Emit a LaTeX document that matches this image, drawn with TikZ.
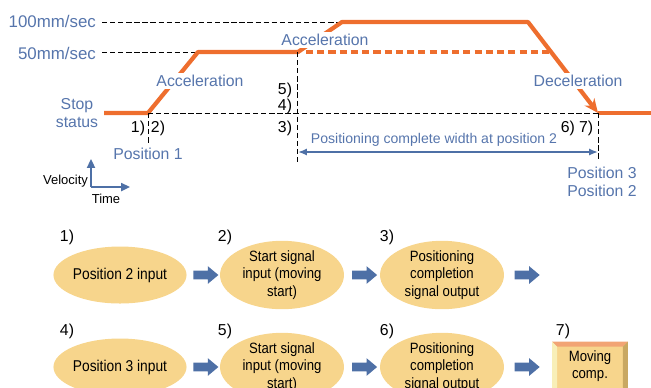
\documentclass[tikz,border=0pt]{standalone}
\usepackage{fontspec}
\setmainfont{Liberation Sans}
\newfontfamily\narrowfont{Liberation Sans}[FakeStretch=0.88]
\usepackage{xcolor}
\usetikzlibrary{arrows.meta, positioning, shapes.geometric, shapes.arrows, calc}

\definecolor{speedorange}{HTML}{EE6E2E}
\definecolor{textblue}{HTML}{5675AC}
\definecolor{flowblue}{HTML}{4E70A6}
\definecolor{stepfill}{HTML}{F7D58C}
\definecolor{bevtop}{HTML}{F2A474}
\definecolor{bevleft}{HTML}{F8EFB8}
\definecolor{bevright}{HTML}{C9A862}

\begin{document}
\begin{tikzpicture}[
  x=0.02cm, y=-0.02cm,
  profile/.style={draw=speedorange, line width=2.4pt, line join=round},
  profdash/.style={draw=speedorange, line width=2.4pt, dash pattern=on 4pt off 2.4pt},
  guide/.style={draw=black, line width=0.5pt, dash pattern=on 3pt off 1.6pt},
  bluetxt/.style={text=textblue, font=\fontsize{9}{10.3}\selectfont, align=center, inner sep=1pt},
  phase/.style={bluetxt, fill=white},
  numtxt/.style={font=\fontsize{9}{10}\selectfont, inner sep=1pt},
  stepoval/.style={ellipse, fill=stepfill, minimum width=2.48cm, minimum height=1.14cm, inner sep=0pt,
    align=center, font=\narrowfont\fontsize{8.5}{9.8}\selectfont},
  blockarrow/.style={single arrow, fill=flowblue, inner sep=0.08cm, minimum height=0.5cm,
    single arrow head extend=0.09cm, single arrow tip angle=80}
]
  \useasboundingbox (0,0) rectangle (651,387);
  \clip (0,0) rectangle (651,387);

  % Speed levels
  \node[bluetxt, font=\fontsize{9.6}{10}\selectfont, anchor=east] (v100) at (98,21) {100mm/sec};
  \node[bluetxt, font=\fontsize{9.6}{10}\selectfont, anchor=east] (v50)  at (98,53) {50mm/sec};
  \coordinate (h100) at (340,22);
  \coordinate (h50)  at (297,52);
  \draw[guide] (v100.east) ++(4,1) coordinate (g100) -- (h100);
  \draw[guide] (v50.east) ++(4,-1) coordinate (g50) -- (h50);

  % Velocity profile
  \coordinate (s0) at (104,113);
  \coordinate (a0) at (148,113);
  \coordinate (a1) at (198,52);
  \coordinate (b0) at (298,52);
  \coordinate (b1) at (342,22);
  \coordinate (c0) at (528,22);
  \coordinate (c1) at (598,113);
  \coordinate (e0) at (651,113);
  \coordinate (d0) at (306,52);
  \coordinate (d1) at (551,52);
  \draw[profdash] (d0) -- (d1);
  \draw[profile, -{Stealth[length=8pt, width=7pt]}] (s0) -- (a0) -- (a1) -- (b0) -- (b1) -- (c0) -- (c1);
  \draw[profile] (c1) -- (e0);

  % Guide lines
  \coordinate (a0low) at (148,143);
  \coordinate (h50low) at (297,163);
  \coordinate (c1low) at (598,160);
  \draw[guide] (a0) -- (c1);
  \draw[guide] (a0) -- (a0low);
  \draw[guide] (h50) -- (h50low);
  \draw[guide] (c1) -- (c1low);

  % Phase labels
  \node[phase] (acc1) at (200,81) {Acceleration};
  \node[phase] (acc2) at (325,40) {Acceleration};
  \node[phase] (dec)  at (578,81) {Deceleration};
  \node[bluetxt] (stop) at (77,113) {Stop\\status};
  \node[bluetxt] (pos1) at (148,154) {Position 1};
  \node[bluetxt] (pos32) at (602,182) {Position 3\\Position 2};

  % Step numbers on the chart
  \node[numtxt] (t1) at (138,128) {1)};
  \node[numtxt] (t2) at (158,128) {2)};
  \node[numtxt] (t3) at (285,128) {3)};
  \node[numtxt] (t4) at (285,106) {4)};
  \node[numtxt] (t5) at (285,90)  {5)};
  \node[numtxt] (t67) at (577,128) {6) 7)};

  % Positioning width
  \coordinate (w0) at (298,152);
  \coordinate (w1) at (598,152);
  \draw[flowblue, line width=1pt, {Latex[length=5pt, width=4pt]}-{Latex[length=5pt, width=4pt]}] (w0) -- (w1);
  \node[bluetxt, font=\fontsize{8}{9}\selectfont] (wtxt) at (434,140) {Positioning complete width at position 2};

  % Axes
  \coordinate (ax0) at (91,187);
  \coordinate (axv) at (91,159);
  \coordinate (axt) at (130,187);
  \draw[flowblue, line width=1.1pt, -{Triangle[length=5pt, width=4.5pt]}] (ax0) -- (axv);
  \draw[flowblue, line width=1.1pt, -{Triangle[length=5pt, width=4.5pt]}] (ax0) -- (axt);
  \node[anchor=east, font=\fontsize{7.4}{8}\selectfont, inner sep=1pt] (vel) at (90,181) {Velocity};
  \node[font=\fontsize{7.4}{8}\selectfont, inner sep=1pt] (tim) at (106,199) {Time};

  % Flow, first run
  \node[numtxt] (f1) at (67,237) {1)};
  \node[numtxt] (f2) at (225,237) {2)};
  \node[numtxt] (f3) at (387,237) {3)};
  \node[stepoval, font=\narrowfont\fontsize{8.9}{10}\selectfont] (in1) at (120,275) {Position 2 input};
  \node[stepoval] (st1) at (282,275) {Start signal\\input (moving\\start)};
  \node[stepoval] (pc1) at (442,275) {Positioning\\completion\\signal output};
  \node[blockarrow] (ar1) at ($(in1.east)!0.5!(st1.west)$) {};
  \node[blockarrow] (ar2) at ($(st1.east)!0.5!(pc1.west)$) {};
  \node[blockarrow, right=0.2cm of pc1] (ar3) {};

  % Flow, second run
  \node[numtxt] (f4) at (67,331) {4)};
  \node[numtxt] (f5) at (225,331) {5)};
  \node[numtxt] (f6) at (387,331) {6)};
  \node[numtxt] (f7) at (563,331) {7)};
  \node[stepoval, font=\narrowfont\fontsize{8.9}{10}\selectfont] (in2) at (120,367) {Position 3 input};
  \node[stepoval] (st2) at (282,367) {Start signal\\input (moving\\start)};
  \node[stepoval] (pc2) at (442,367) {Positioning\\completion\\signal output};
  \node[blockarrow] (ar4) at ($(in2.east)!0.5!(st2.west)$) {};
  \node[blockarrow] (ar5) at ($(st2.east)!0.5!(pc2.west)$) {};
  \node[blockarrow, right=0.2cm of pc2] (ar6) {};

  % Moving comp. box
  \node[fill=stepfill, minimum width=1.5cm, minimum height=1.0cm, inner sep=0pt] (mv) at (590,367) {};
  \fill[bevtop] (mv.north west) -- (mv.north east) -- ([shift={(-5,5)}]mv.north east) -- ([shift={(5,5)}]mv.north west) -- cycle;
  \fill[bevleft] (mv.north west) -- ([shift={(5,5)}]mv.north west) -- ([shift={(5,-5)}]mv.south west) -- (mv.south west) -- cycle;
  \fill[bevright] (mv.north east) -- ([shift={(-5,5)}]mv.north east) -- ([shift={(-5,-5)}]mv.south east) -- (mv.south east) -- cycle;
  \node[align=center, font=\narrowfont\fontsize{8.5}{9.8}\selectfont] (mvtxt) at (590,366) {Moving\\comp.};

\end{tikzpicture}
\end{document}
